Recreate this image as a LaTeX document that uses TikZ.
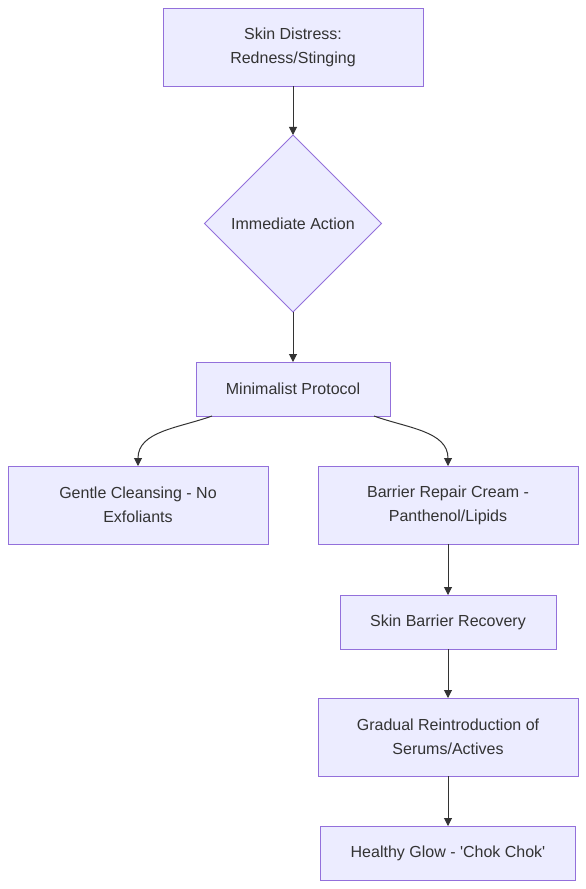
\documentclass[tikz,border=0pt]{standalone}
\usepackage{fontspec}
\setmainfont{Liberation Sans}
\usetikzlibrary{positioning}
\usetikzlibrary{shapes.geometric}
\usetikzlibrary{arrows.meta}
\definecolor{boxfill}{HTML}{ECECFF}
\definecolor{boxline}{HTML}{9370DB}
\definecolor{ink}{HTML}{333333}

\begin{document}
\begin{tikzpicture}[x=1pt, y=-1pt,
    every node/.style={font=\fontsize{16}{24}\selectfont, text=ink, outer sep=0pt},
    box/.style={draw=boxline, fill=boxfill, line width=1pt, align=center, minimum height=54pt},
    wide/.style={box, minimum width=260pt, minimum height=78pt},
    choice/.style={diamond, draw=boxline, fill=boxfill, line width=1pt, minimum size=177pt, inner sep=0pt},
    link/.style={draw=ink, line width=1pt, -{Triangle[length=8pt,width=8pt]}}
  ]
  \useasboundingbox (0,0) rectangle (586,889);

  \node[wide] (distress) at (293,47) {Skin Distress:\\Redness/Stinging};
  \node[choice, below=49pt of distress] (action) {Immediate Action};
  \node[box, minimum width=194pt, below=50pt of action] (protocol) {Minimalist Protocol};
  \node[wide, below=50pt of protocol, xshift=-155pt] (cleansing) {Gentle Cleansing - No\\Exfoliants};
  \node[wide, below=50pt of protocol, xshift=155pt] (repair) {Barrier Repair Cream -\\Panthenol/Lipids};
  \node[box, minimum width=216pt, below=51pt of repair] (recovery) {Skin Barrier Recovery};
  \node[wide, below=49pt of recovery] (actives) {Gradual Reintroduction of\\Serums/Actives};
  \node[box, minimum width=255pt, below=50pt of actives] (glow) {Healthy Glow - \textquotesingle Chok Chok\textquotesingle};

  \draw[link] (distress) -- (action);
  \draw[link] (action) -- (protocol);
  \draw[link] ([xshift=16pt]protocol.south west) to[out=200,in=90] (cleansing.north);
  \draw[link] ([xshift=-16pt]protocol.south east) to[out=-20,in=90] (repair.north);
  \draw[link] (repair) -- (recovery);
  \draw[link] (recovery) -- (actives);
  \draw[link] (actives) -- (glow);
\end{tikzpicture}
\end{document}
